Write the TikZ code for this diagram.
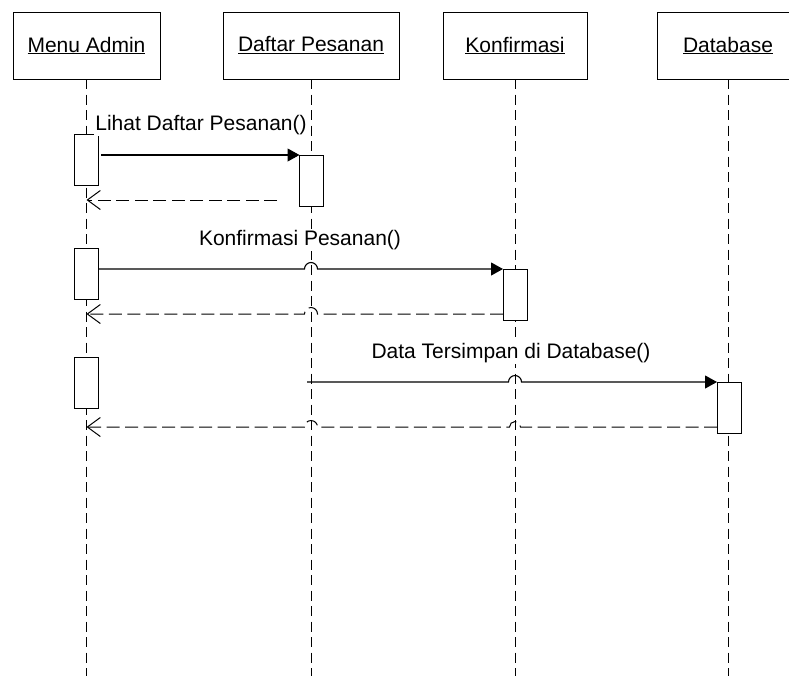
\documentclass[tikz,border=0pt]{standalone}
\usepackage{fontspec}
\setmainfont{Liberation Sans}
\usetikzlibrary{arrows.meta,calc}
\begin{document}
\begin{tikzpicture}[x=1pt,y=-1pt,
  every node/.style={inner sep=0pt,outer sep=0pt},
  headbox/.style={draw,line width=1pt,minimum height=67pt,anchor=north west},
  headtxt/.style={font=\fontsize{21}{25}\selectfont,text=black},
  actbox/.style={draw,fill=white,line width=1pt,minimum width=24pt,minimum height=51pt,anchor=north west},
  lifeline/.style={line width=1pt,dash pattern=on 10pt off 5.5pt},
  callmsg/.style={line width=1.1pt,-{Triangle[length=12pt,width=13pt]}},
  retmsg/.style={line width=1pt,dash pattern=on 13pt off 5.5pt,-{Straight Barb[length=13pt,width=19pt]}},
  msglabel/.style={font=\fontsize{21}{25}\selectfont,fill=white,inner sep=1pt,text=black}]

\useasboundingbox (0,0) rectangle (789,678);

% object headers
\node[headbox,minimum width=147pt] (hma) at (13,12) {};
\node[headbox,minimum width=176pt] (hda) at (223,12) {};
\node[headbox,minimum width=144pt] (hkf) at (443,12) {};
\node[headbox,minimum width=142pt] (hdb) at (657,12) {};
\node[headtxt] at (hma.center) {\underline{Menu Admin}};
\node[headtxt] at (hda.center) {\underline{Daftar Pesanan}};
\node[headtxt] at (hkf.center) {\underline{Konfirmasi}};
\node[headtxt] at (hdb.center) {\underline{Database}};

% lifelines
\coordinate (bot) at (0,676);
\draw[lifeline] (hma.south) -- (hma.south |- bot);
\draw[lifeline] (hda.south) -- (hda.south |- bot);
\draw[lifeline] (hkf.south) -- (hkf.south |- bot);
\draw[lifeline] (hdb.south) -- (hdb.south |- bot);

% activations
\node[actbox] (ma1) at (74,134) {};
\node[actbox] (da1) at (299.5,155) {};
\node[actbox] (ma2) at (74,248) {};
\node[actbox] (ka1) at (503,269) {};
\node[actbox] (ma3) at (74,357) {};
\node[actbox] (dba1) at (717,382) {};

% message 1 and its reply
\draw[callmsg] ($(ma1.east |- da1.north)+(3,0)$) -- (da1.north west);
\coordinate (r1) at (277,200);
\draw[retmsg] (r1) -- (hma.south |- r1);

% message 2 and its reply (hop over the Daftar Pesanan lifeline)
\coordinate (j2) at (hda.south |- ka1.north);
\draw[callmsg] (ma2.east |- ka1.north) -- ($(j2)+(-6.5,0)$)
  arc[start angle=180,end angle=0,radius=6.5pt] -- (ka1.north west);
\coordinate (r2) at ([yshift=6pt]ka1.south west);
\coordinate (k2) at (hda.south |- r2);
\draw[retmsg] (r2) -- ($(k2)+(6.5,0)$)
  arc[start angle=0,end angle=180,radius=6.5pt] -- (hma.south |- r2);

% message 3 and its reply
\coordinate (s3) at ($(hda.south |- dba1.north)+(-4,0)$);
\coordinate (j3) at (hkf.south |- dba1.north);
\draw[callmsg] (s3) -- ($(j3)+(-6.5,0)$)
  arc[start angle=180,end angle=0,radius=6.5pt] -- (dba1.north west);
\coordinate (r3) at ([yshift=6pt]dba1.south west);
\coordinate (k3a) at (hkf.south |- r3);
\coordinate (k3b) at (hda.south |- r3);
\draw[retmsg] (r3) -- ($(k3a)+(5.5,0)$)
  arc[start angle=0,end angle=180,radius=5.5pt] -- ($(k3b)+(6.5,0)$)
  arc[start angle=0,end angle=180,radius=6.5pt] -- (hma.south |- r3);

% message labels
\node[msglabel] (l1) at (201,125) {Lihat Daftar Pesanan()};
\node[msglabel] (l2) at (300,240) {Konfirmasi Pesanan()};
\node[msglabel] (l3) at (511,353) {Data Tersimpan di Database()};
\end{tikzpicture}
\end{document}
